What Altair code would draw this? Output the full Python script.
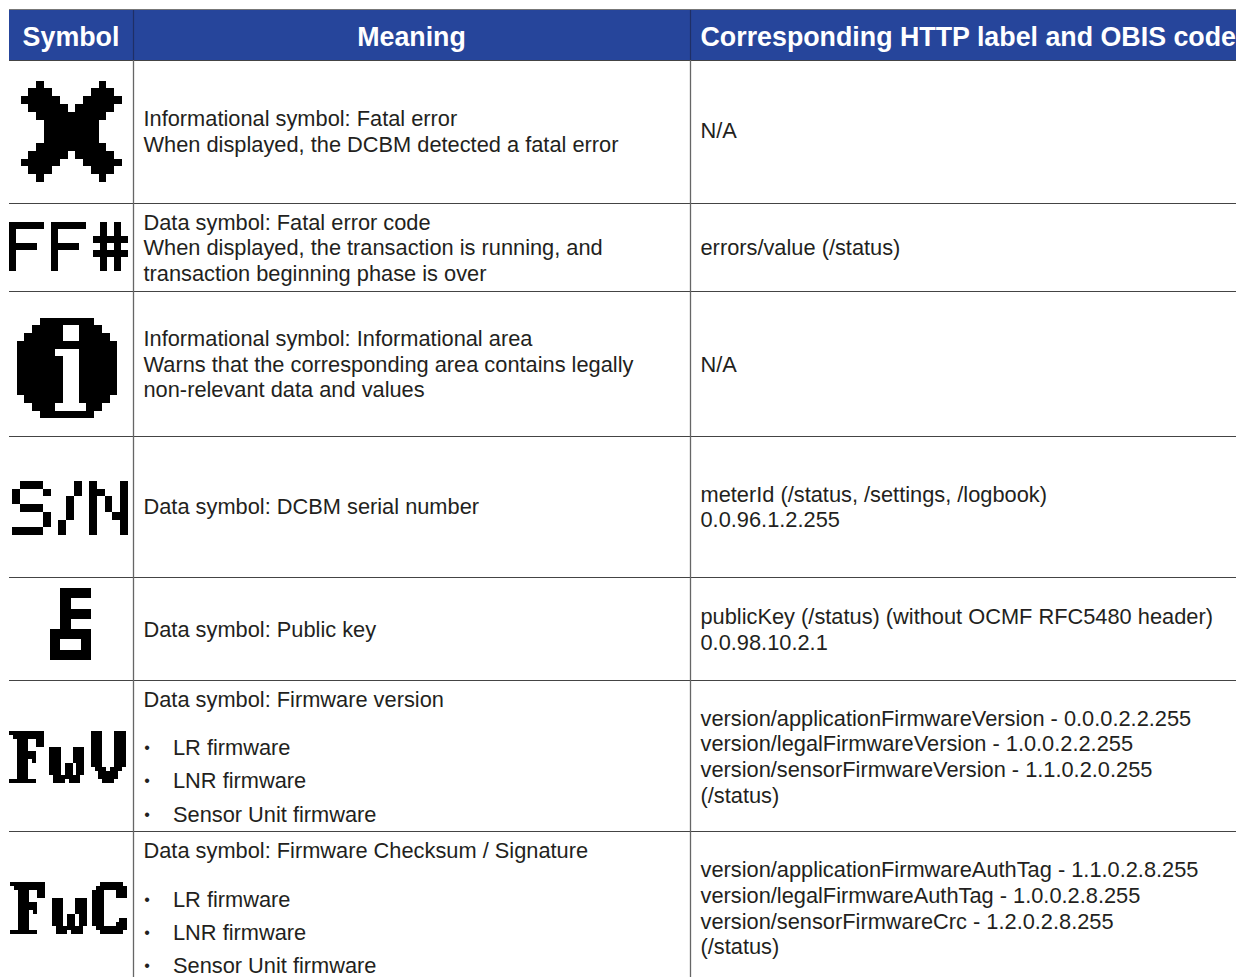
import altair as alt
import pandas as pd

# ---- table geometry (page pixels)
col_edges = [133.5, 690.5]
row_edges = [60.5, 203.5, 291.5, 436.5, 577.5, 680.5, 831.5]
header_top, header_bottom, table_left, table_right, table_bottom = 10, 60, 9, 1236, 977

headers = ["Symbol", "Meaning", "Corresponding HTTP label and OBIS code"]
header_x = [71, 411.5, 700.5]
header_align = ["center", "center", "left"]

meaning_lines = [
    ("Informational symbol: Fatal error", 119), ("When displayed, the DCBM detected a fatal error", 144.5),
    ("Data symbol: Fatal error code", 223), ("When displayed, the transaction is running, and", 248),
    ("transaction beginning phase is over", 274),
    ("Informational symbol: Informational area", 339),
    ("Warns that the corresponding area contains legally", 365),
    ("non-relevant data and values", 390),
    ("Data symbol: DCBM serial number", 507),
    ("Data symbol: Public key", 630),
    ("Data symbol: Firmware version", 700),
    ("Data symbol: Firmware Checksum / Signature", 851),
]
bullet_lines = [
    ("LR firmware", 747.8), ("LNR firmware", 780.8), ("Sensor Unit firmware", 814.8),
    ("LR firmware", 899.8), ("LNR firmware", 932.8), ("Sensor Unit firmware", 965.8),
]
code_lines = [
    ("N/A", 131.4), ("errors/value (/status)", 248), ("N/A", 365),
    ("meterId (/status, /settings, /logbook)", 495), ("0.0.96.1.2.255", 520),
    ("publicKey (/status) (without OCMF RFC5480 header)", 617), ("0.0.98.10.2.1", 643),
    ("version/applicationFirmwareVersion - 0.0.0.2.2.255", 719),
    ("version/legalFirmwareVersion - 1.0.0.2.2.255", 744),
    ("version/sensorFirmwareVersion - 1.1.0.2.0.255", 770), ("(/status)", 796),
    ("version/applicationFirmwareAuthTag - 1.1.0.2.8.255", 870),
    ("version/legalFirmwareAuthTag - 1.0.0.2.8.255", 896),
    ("version/sensorFirmwareCrc - 1.2.0.2.8.255", 922), ("(/status)", 947),
]

# ---- pixel-font glyphs
X_GLYPH = ["0010000000100", "0111000001110", "1111100011111", "0111110111110", "0011111111100",
           "0001111111000", "0001111111000", "0001111111000", "0011111111100", "0111110111110",
           "1111100011111", "0111000001110", "0010000000100"]
FF_GLYPH = ["11111011111001010", "10000010000001010", "10000010000011111", "11110011110001010",
            "10000010000011111", "10000010000001010", "10000010000001010"]
INFO_GLYPH = ["0001111111000", "0011110011100", "0111110011110", "1111111111111", "1111100011111",
              "1111110011111", "1111110011111", "1111110011111", "1111110011111", "1111110011111",
              "0111110011110", "0011100001100", "0001111111000"]
SN_GLYPH = ["011100001010001", "100010001011001", "100000010010101", "011100010010101",
            "000010010010011", "000010100010001", "111100100010001"]
KEY_GLYPH = ["0111", "0100", "0111", "0100", "1111", "1001", "1111"]
F_GLYPH = ["111111111", "011111111", "001110011", "001110011", "001110000", "001111100", "001111100",
           "001110100", "001110000", "001110000", "001110000", "001110000", "111111100"]
W_GLYPH = ["111000111", "111000111", "111000111", "111000111", "111011011", "111011011", "111011011",
           "011111110", "011101110"]
V_GLYPH = ["111000111"] * 9 + ["011101110", "001111100", "001111100", "000111000"]
C_GLYPH = ["001111110", "011111111", "111000111", "111000111", "111000000", "111000000", "111000000",
           "111000000", "111000000", "111000011", "111000111", "011111111", "001111110"]

# glyph, left, top, cell width, cell height
symbols = [
    (X_GLYPH, 20.7, 80.7, 7.8, 7.8),
    (FF_GLYPH, 8.6, 222.3, 7.0, 7.0),
    (INFO_GLYPH, 16.7, 317.7, 7.75, 7.75),
    (SN_GLYPH, 12.3, 481, 7.7, 7.7),
    (KEY_GLYPH, 50.3, 588.3, 10.2, 10.2),
    (F_GLYPH, 9, 731, 3.87, 4),
    (W_GLYPH, 49.3, 747, 3.87, 4),
    (V_GLYPH, 90.7, 731, 3.87, 4),
    (F_GLYPH, 10, 882.3, 3.87, 4),
    (W_GLYPH, 51.7, 898.3, 3.87, 4),
    (C_GLYPH, 92.3, 882.3, 3.87, 4),
]

cells = []
for glyph, left, top, cw, ch in symbols:
    for r, row in enumerate(glyph):
        c = 0
        while c < len(row):
            if row[c] == "1":
                e = c
                while e < len(row) and row[e] == "1":
                    e += 1
                cells.append({"x": round(left + c * cw), "x2": round(left + e * cw),
                              "y": round(top + r * ch), "y2": round(top + (r + 1) * ch)})
                c = e
            else:
                c += 1

X = alt.X("x:Q", scale=alt.Scale(domain=[8, 1236], nice=False, zero=False), axis=None)
Y = alt.Y("y:Q", scale=alt.Scale(domain=[977, 8], nice=False, zero=False), axis=None)

header_df = pd.DataFrame([{"x": table_left, "x2": table_right, "y": header_top, "y2": header_bottom}])
header_rect = alt.Chart(header_df).mark_rect(color="#26459b").encode(X, alt.X2("x2:Q"), Y, alt.Y2("y2:Q"))

top_rule = alt.Chart(pd.DataFrame([{"x": table_left, "x2": table_right, "y": 9.5}])).mark_rule(
    color="#777777", strokeWidth=1).encode(X, alt.X2("x2:Q"), Y)
h_df = pd.DataFrame([{"x": table_left, "x2": table_right, "y": v} for v in row_edges])
h_rules = alt.Chart(h_df).mark_rule(color="#444444", strokeWidth=1).encode(X, alt.X2("x2:Q"), Y)
v_df = pd.DataFrame([{"x": v, "y": header_bottom, "y2": table_bottom} for v in col_edges])
v_rules = alt.Chart(v_df).mark_rule(color="#666666", strokeWidth=1.3).encode(X, Y, alt.Y2("y2:Q"))
v_head_df = pd.DataFrame([{"x": v, "y": header_top, "y2": header_bottom} for v in col_edges])
v_head = alt.Chart(v_head_df).mark_rule(color="#1f2f66", strokeWidth=1.2).encode(X, Y, alt.Y2("y2:Q"))

FONT = "Liberation Sans"
head_layers = []
for name, xpos, al in zip(headers, header_x, header_align):
    head_layers.append(
        alt.Chart(pd.DataFrame([{"x": xpos, "y": 37.5, "t": name}])).mark_text(
            font=FONT, fontSize=26.8, fontWeight="bold", color="white", align=al, baseline="middle"
        ).encode(X, Y, text="t:N"))


def text_layer(lines, xpos, size=21.8):
    df = pd.DataFrame([{"x": xpos, "y": y, "t": t} for t, y in lines])
    return alt.Chart(df).mark_text(
        font=FONT, fontSize=size, color="#231f20", align="left", baseline="middle"
    ).encode(X, Y, text="t:N")


bullets = text_layer([("•", y) for _, y in bullet_lines], 144.3, size=16)
symbols_layer = alt.Chart(pd.DataFrame(cells)).mark_rect(color="black").encode(X, alt.X2("x2:Q"), Y, alt.Y2("y2:Q"))

chart = alt.layer(
    header_rect, top_rule, h_rules, v_rules, v_head, *head_layers,
    symbols_layer, text_layer(meaning_lines, 143.5), bullets,
    text_layer(bullet_lines, 173), text_layer(code_lines, 700.5),
).properties(width=1228, height=969, padding=0, autosize=alt.AutoSizeParams(type="none")).configure_view(stroke=None)

chart.save("out.html", embed_options={"renderer": "svg", "actions": False})
